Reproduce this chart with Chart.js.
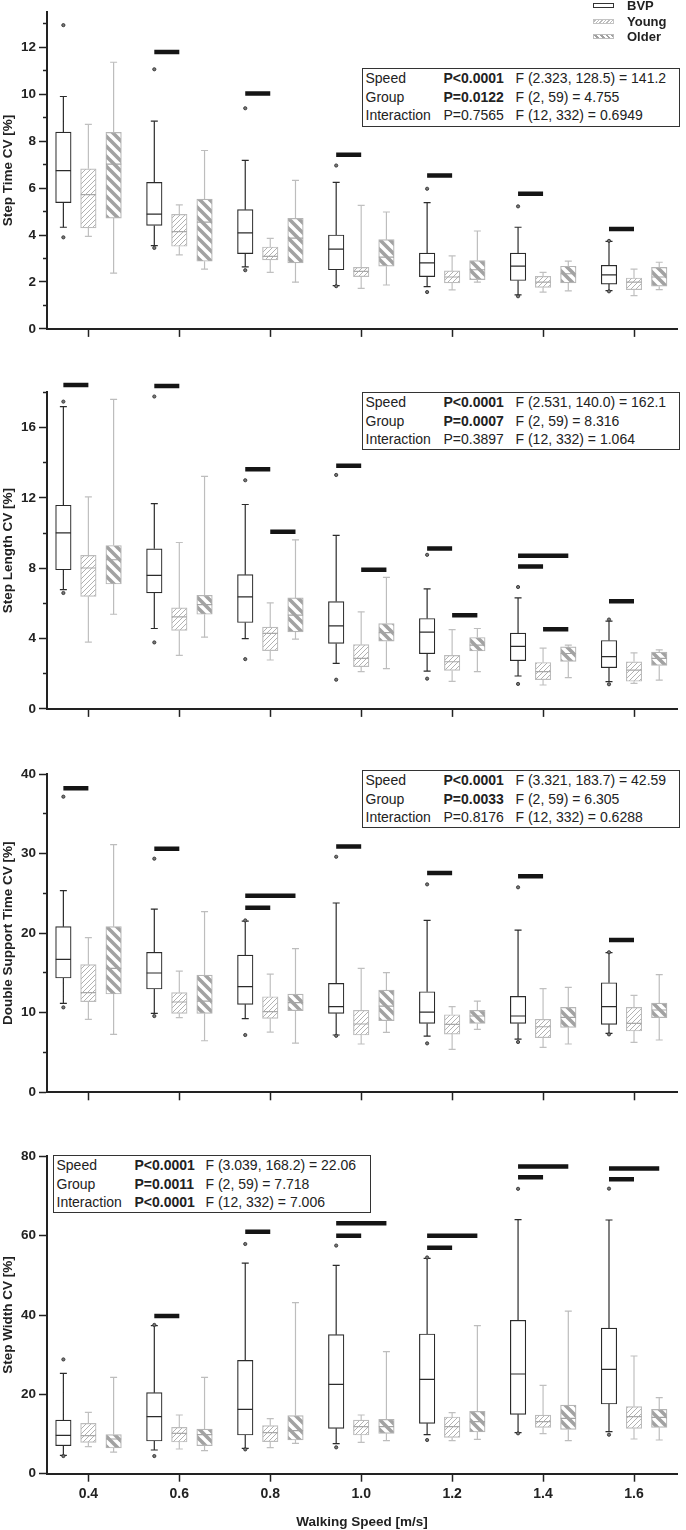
<!DOCTYPE html>
<html><head><meta charset="utf-8">
<script src="https://cdn.jsdelivr.net/npm/chart.js@4.4.1/dist/chart.umd.min.js"></script>
<style>
html,body{margin:0;padding:0;background:#fff;width:686px;height:1530px;overflow:hidden;font-family:"Liberation Sans",Arial,sans-serif;color:#222;}
canvas{position:absolute;left:0;}
.stats{position:absolute;border:1.5px solid #333;background:#fff;font-size:14px;line-height:18.5px;padding:0 0 0 2.5px;box-sizing:border-box;z-index:5;white-space:nowrap;}
.stats .r{display:grid;grid-template-columns:78px 72px auto;height:18.5px;}
.lg{position:absolute;left:593px;z-index:5;font-weight:bold;font-size:13px;line-height:15px;}
.lg .sw{position:absolute;left:0;width:21px;height:5px;box-sizing:border-box;}
.lg .tx{position:absolute;left:34px;white-space:nowrap;}
</style>
</head><body>
<canvas id="c1" width="686" height="340" style="top:0"></canvas>
<canvas id="c2" width="686" height="380" style="top:340px"></canvas>
<canvas id="c3" width="686" height="390" style="top:720px"></canvas>
<canvas id="c4" width="686" height="420" style="top:1110px"></canvas>

<div class="lg" style="top:0">
  <div class="sw" style="top:3px;border:1.3px solid #333;background:#fff"></div><div class="tx" style="top:-2px">BVP</div>
  <div class="sw" style="top:19px;border:1px solid #c4c4c4;background:repeating-linear-gradient(-45deg,#fff 0 1.5px,#bbb 1.5px 2.5px)"></div><div class="tx" style="top:14px">Young</div>
  <div class="sw" style="top:34px;border:1px solid #bdbdbd;background:repeating-linear-gradient(45deg,#fff 0 2px,#a0a0a0 2px 4px)"></div><div class="tx" style="top:29px">Older</div>
</div>

<div class="stats" style="left:362px;top:68px;width:318px;height:59px">
  <div class="r"><span>Speed</span><span><b>P&lt;0.0001</b></span><span>F (2.323, 128.5) = 141.2</span></div>
  <div class="r"><span>Group</span><span><b>P=0.0122</b></span><span>F (2, 59) = 4.755</span></div>
  <div class="r"><span>Interaction</span><span>P=0.7565</span><span>F (12, 332) = 0.6949</span></div>
</div>
<div class="stats" style="left:362px;top:392px;width:318px;height:58px">
  <div class="r"><span>Speed</span><span><b>P&lt;0.0001</b></span><span>F (2.531, 140.0) = 162.1</span></div>
  <div class="r"><span>Group</span><span><b>P=0.0007</b></span><span>F (2, 59) = 8.316</span></div>
  <div class="r"><span>Interaction</span><span>P=0.3897</span><span>F (12, 332) = 1.064</span></div>
</div>
<div class="stats" style="left:362px;top:770px;width:318px;height:58px">
  <div class="r"><span>Speed</span><span><b>P&lt;0.0001</b></span><span>F (3.321, 183.7) = 42.59</span></div>
  <div class="r"><span>Group</span><span><b>P=0.0033</b></span><span>F (2, 59) = 6.305</span></div>
  <div class="r"><span>Interaction</span><span>P=0.8176</span><span>F (12, 332) = 0.6288</span></div>
</div>
<div class="stats" style="left:53px;top:1155px;width:318px;height:58px">
  <div class="r" style="grid-template-columns:78px 71px auto"><span>Speed</span><span><b>P&lt;0.0001</b></span><span>F (3.039, 168.2) = 22.06</span></div>
  <div class="r" style="grid-template-columns:78px 71px auto"><span>Group</span><span><b>P=0.0011</b></span><span>F (2, 59) = 7.718</span></div>
  <div class="r" style="grid-template-columns:78px 71px auto"><span>Interaction</span><span><b>P&lt;0.0001</b></span><span>F (12, 332) = 7.006</span></div>
</div>

<script>
// ---------- DATA ----------
const speeds = [0.4, 0.6, 0.8, 1.0, 1.2, 1.4, 1.6];
const groupNames = ['BVP', 'Young', 'Older'];
// each row: [lower whisker, Q1, median, Q3, upper whisker] per speed

const stepTimeBVP = [[4.33,5.38,6.74,8.38,9.90],[3.55,4.41,4.89,6.24,8.85],[2.64,3.21,4.09,5.08,7.18],[1.84,2.52,3.40,4.00,6.24],[1.80,2.23,2.81,3.23,5.38],[1.45,2.06,2.67,3.23,4.33],[1.63,1.91,2.30,2.71,3.73]];
const stepTimeYoung = [[3.94,4.30,5.72,6.82,8.71],[3.15,3.52,4.14,4.88,5.28],[2.41,2.94,3.09,3.49,3.86],[1.73,2.23,2.45,2.62,5.26],[1.66,1.96,2.21,2.47,3.11],[1.57,1.77,1.99,2.24,2.41],[1.42,1.67,1.99,2.17,2.55]];
const stepTimeOlder = [[2.38,4.72,7.02,8.37,11.36],[2.55,2.88,4.55,5.53,7.60],[1.99,2.81,3.87,4.71,6.33],[1.87,2.67,3.06,3.80,4.98],[1.99,2.10,2.52,2.91,4.17],[1.62,1.96,2.35,2.67,2.89],[1.67,1.82,2.21,2.62,2.84]];
const stepTimeOutliers = [[0.4,12.94],[0.4,3.9],[0.6,11.06],[0.6,3.45],[0.8,9.40],[0.8,2.5],[1.0,6.96],[1.0,1.82],[1.2,5.97],[1.2,1.57],[1.4,5.22],[1.4,1.39],[1.6,3.75],[1.6,1.6]];
// [speed, fromGroup, toGroup, value]
const stepTimeSig = [[0.6,0,1,11.8],[0.8,0,1,10.03],[1.0,0,1,7.42],[1.2,0,1,6.53],[1.4,0,1,5.76],[1.6,0,1,4.26]];

const stepLengthBVP = [[6.78,7.91,10.01,11.58,17.19],[4.57,6.59,7.59,9.10,11.67],[3.99,4.91,6.37,7.63,11.62],[2.59,3.72,4.72,6.10,9.86],[2.15,3.14,4.36,5.14,6.82],[1.87,2.74,3.55,4.31,6.31],[1.55,2.34,2.97,3.89,4.99]];
const stepLengthYoung = [[3.80,6.40,8.01,8.73,12.05],[3.04,4.46,5.23,5.74,9.46],[2.78,3.31,4.29,4.65,6.03],[2.12,2.40,2.87,3.65,5.52],[1.57,2.19,2.68,3.04,4.51],[1.36,1.66,2.12,2.64,3.46],[1.45,1.57,2.21,2.68,3.19]];
const stepLengthOlder = [[5.38,7.10,8.48,9.29,17.60],[4.08,5.38,5.93,6.46,13.22],[3.97,4.38,5.33,6.31,9.61],[2.29,3.85,4.34,4.85,7.48],[2.12,3.29,3.63,4.06,4.57],[1.78,2.70,3.15,3.53,3.63],[1.64,2.47,2.87,3.23,3.36]];
const stepLengthOutliers = [[0.4,17.47],[0.4,6.59],[0.6,17.76],[0.6,3.78],[0.8,13.0],[0.8,2.83],[1.0,13.3],[1.0,1.66],[1.2,8.76],[1.2,1.72],[1.4,6.93],[1.4,1.42],[1.6,5.08],[1.6,1.40]];
const stepLengthSig = [[0.4,0,1,18.42],[0.6,0,1,18.36],[0.8,0,1,13.62],[0.8,1,2,10.07],[1.0,0,1,13.83],[1.0,1,2,7.91],[1.2,0,1,9.12],[1.2,1,2,5.33],[1.4,0,2,8.71],[1.4,0,1,8.10],[1.4,1,2,4.53],[1.6,0,1,6.12]];

const dsTimeBVP = [[11.18,14.36,16.71,20.81,25.34],[9.92,12.98,14.99,17.59,23.03],[9.25,11.05,13.27,17.25,21.52],[7.20,9.92,10.76,13.69,23.79],[7.07,8.66,10.08,12.64,21.61],[6.69,8.66,9.59,12.05,20.39],[7.41,8.54,10.76,13.77,17.55]];
const dsTimeYoung = [[9.16,11.39,12.52,16.04,19.43],[9.38,9.92,11.35,12.52,15.24],[7.57,9.29,10.13,12.01,14.86],[6.07,7.20,8.58,10.30,15.58],[5.39,7.32,8.54,9.75,10.76],[5.65,6.86,8.24,9.17,13.02],[6.28,7.70,8.66,10.67,12.18]];
const dsTimeOlder = [[7.28,12.35,15.58,20.81,31.12],[6.48,9.92,11.47,14.74,22.70],[6.19,10.25,11.26,12.35,18.05],[7.53,9.00,10.84,12.85,15.03],[7.91,8.66,9.59,10.30,11.47],[6.07,8.16,9.42,10.67,13.19],[6.57,9.38,10.34,11.22,14.78]];
const dsTimeOutliers = [[0.4,37.15],[0.4,10.67],[0.6,29.36],[0.6,9.58],[0.8,21.6],[0.8,7.20],[1.0,29.6],[1.0,7.1],[1.2,26.13],[1.2,6.15],[1.4,25.76],[1.4,6.32],[1.6,17.6],[1.6,7.28]];
const dsTimeSig = [[0.4,0,1,38.2],[0.6,0,1,30.62],[0.8,0,2,24.71],[0.8,0,1,23.2],[1.0,0,1,30.9],[1.2,0,1,27.56],[1.4,0,1,27.14],[1.6,0,1,19.14]];

const stepWidthBVP = [[4.62,7.06,9.66,13.5,25.3],[5.97,8.24,14.37,20.42,37.3],[6.39,9.75,16.22,28.57,53.1],[7.56,11.43,22.52,35.04,52.5],[9.83,12.69,23.78,35.21,54.29],[10.34,14.96,25.13,38.66,64.03],[10.59,17.56,26.30,36.72,63.95]];
const stepWidthYoung = [[6.81,7.90,9.58,12.69,15.46],[6.22,7.98,10.17,11.68,14.79],[6.55,8.07,10.34,12.10,13.87],[7.90,9.75,11.85,13.53,14.79],[8.32,9.16,11.85,14.29,15.38],[10.08,11.68,13.11,14.79,22.27],[8.74,11.43,14.37,16.89,29.66]];
const stepWidthOlder = [[5.46,6.47,8.74,9.83,24.29],[5.80,7.06,9.83,11.26,24.29],[7.65,8.49,10.84,14.62,43.1],[8.32,10.17,11.85,13.70,30.76],[8.66,10.50,13.11,15.71,37.31],[8.32,11.18,13.95,17.31,41.0],[8.49,11.68,14.20,16.22,19.16]];
const stepWidthOutliers = [[0.4,28.8],[0.4,4.45],[0.6,37.5],[0.6,4.45],[0.8,57.9],[0.8,6.13],[1.0,57.5],[1.0,6.64],[1.2,54.5],[1.2,8.49],[1.4,71.8],[1.4,10.17],[1.6,71.85],[1.6,9.83]];
const stepWidthSig = [[0.6,0,1,39.75],[0.8,0,1,61.0],[1.0,0,2,63.1],[1.0,0,1,60.0],[1.2,0,2,60.0],[1.2,0,1,56.97],[1.4,0,2,77.4],[1.4,0,1,74.7],[1.6,0,2,76.9],[1.6,0,1,74.2]];

// axis tick values
const stepTimeTicks = [0,2,4,6,8,10,12], stepTimeMinor = [1,3,5,7,9,11,13];
const stepLengthTicks = [0,4,8,12,16], stepLengthMinor = [2,6,10,14,18];
const dsTimeTicks = [0,10,20,30,40], dsTimeMinor = [5,15,25,35];
const stepWidthTicks = [0,20,40,60,80], stepWidthMinor = [];

// ---------- LAYOUT / STYLE ----------
const FONT = 'Liberation Sans';
Chart.defaults.font.family = FONT;
const groupOffsets = [-0.055, 0, 0.0555];

const panels = [
  {id:'c1', padTop:12, xH:10.7, yMax:13.5, major:stepTimeTicks, minor:stepTimeMinor, title:'Step Time CV [%]', data:[stepTimeBVP,stepTimeYoung,stepTimeOlder], out:stepTimeOutliers, sig:stepTimeSig, last:false},
  {id:'c2', padTop:52.3, xH:9.3, yMax:18, major:stepLengthTicks, minor:stepLengthMinor, title:'Step Length CV [%]', data:[stepLengthBVP,stepLengthYoung,stepLengthOlder], out:stepLengthOutliers, sig:stepLengthSig, last:false},
  {id:'c3', padTop:54, xH:17.7, yMax:40, major:dsTimeTicks, minor:dsTimeMinor, title:'Double Support Time CV [%]', data:[dsTimeBVP,dsTimeYoung,dsTimeOlder], out:dsTimeOutliers, sig:dsTimeSig, last:false},
  {id:'c4', padTop:46.3, xH:56.3, yMax:80, major:stepWidthTicks, minor:stepWidthMinor, title:'Step Width CV [%]', data:[stepWidthBVP,stepWidthYoung,stepWidthOlder], out:stepWidthOutliers, sig:stepWidthSig, last:true}
];

function makePatterns(ctx){
  const a = document.createElement('canvas'); a.width = a.height = 5;
  const g = a.getContext('2d'); g.fillStyle = '#fff'; g.fillRect(0,0,5,5);
  g.strokeStyle = '#b2b2b2'; g.lineWidth = 1; g.beginPath();
  for (let k=-1;k<=1;k++){ g.moveTo(k*5-1, 6); g.lineTo(k*5+6, -1); }
  g.stroke();
  const b = document.createElement('canvas'); b.width = b.height = 10;
  const h = b.getContext('2d'); h.fillStyle = '#fff'; h.fillRect(0,0,10,10);
  h.strokeStyle = '#a2a2a2'; h.lineWidth = 3.6; h.beginPath();
  for (let k=-1;k<=1;k++){ h.moveTo(-1, -1+10*k); h.lineTo(11, 11+10*k); }
  h.stroke();
  return [ctx.createPattern(a,'repeat'), ctx.createPattern(b,'repeat')];
}

function build(p){
  const cv = document.getElementById(p.id);
  const ctx = cv.getContext('2d');
  const [youngPat, olderPat] = makePatterns(ctx);
  const styles = [
    {border:'#2b2b2b', fill:'#ffffff', whisk:'#2b2b2b', med:'#2b2b2b'},
    {border:'#bcbcbc', fill:youngPat, whisk:'#c0c0c0', med:'#a9a9a9'},
    {border:'#b5b5b5', fill:olderPat, whisk:'#bdbdbd', med:'#a3a3a3'}
  ];
  const ds = [];
  p.data.forEach((arr, g) => {
    const st = styles[g], off = groupOffsets[g];
    ds.push({type:'bar', label:groupNames[g], data:arr.map((v,i)=>({x:speeds[i]+off, y:[v[1], v[3]]})),
      backgroundColor:st.fill, borderColor:st.border, borderWidth:1.2, borderSkipped:false,
      grouped:false, barThickness:15.5, order:5});
    const wl = [];
    arr.forEach((v,i)=>{ const x = speeds[i]+off; wl.push({x,y:v[0]},{x,y:v[1]},{x,y:null},{x,y:v[3]},{x,y:v[4]},{x,y:null}); });
    ds.push({type:'line', data:wl, borderColor:st.whisk, borderWidth:1.2, pointRadius:0, spanGaps:false, fill:false, order:2});
    ds.push({type:'scatter', data:arr.flatMap((v,i)=>[{x:speeds[i]+off,y:v[0]},{x:speeds[i]+off,y:v[4]}]),
      pointStyle:'line', pointRadius:3.5, pointBorderWidth:1.2, pointBorderColor:st.whisk, order:2});
    ds.push({type:'scatter', data:arr.map((v,i)=>({x:speeds[i]+off, y:v[2]})),
      pointStyle:'line', pointRadius:7.6, pointBorderWidth:1.2, pointBorderColor:st.med, order:1});
  });
  ds.push({type:'scatter', data:p.out.map(o=>({x:o[0]+groupOffsets[0], y:o[1]})),
    pointStyle:'circle', pointRadius:1.6, pointBackgroundColor:'#777', pointBorderColor:'#333', pointBorderWidth:0.9, order:0, clip:false});
  const sl = [];
  p.sig.forEach(s => { sl.push({x:s[0]+groupOffsets[s[1]], y:s[3]}, {x:s[0]+groupOffsets[s[2]], y:s[3]}, {x:s[0], y:null}); });
  ds.push({type:'line', data:sl, borderColor:'#151515', borderWidth:4.5, borderCapStyle:'butt', pointRadius:0, spanGaps:false, fill:false, clip:false, order:0});

  const tickFont = {family:FONT, size:13.5, weight:'bold'};
  new Chart(ctx, {
    type:'scatter',
    data:{datasets:ds},
    options:{
      responsive:false, animation:false, events:[],
      layout:{padding:{top:p.padTop, left:0, right:0, bottom:0}},
      plugins:{legend:{display:false}, tooltip:{enabled:false}},
      scales:{
        x:{type:'linear', position:'bottom', min:0.309, max:1.695, offset:false,
          afterBuildTicks:s=>{ s.ticks = speeds.map(v=>({value:v})); },
          afterFit:s=>{ s.height = p.xH; },
          grid:{drawOnChartArea:false, offset:false, tickLength:8, tickWidth:1.5, tickColor:'#222'},
          border:{color:'#222', width:2},
          ticks:{display:p.last, padding:4, autoSkip:false, maxRotation:0, color:'#222',
            font:{family:FONT, size:14, weight:'bold'}, callback:v=>Number(v).toFixed(1)},
          title:{display:p.last, text:'Walking Speed [m/s]', color:'#222', font:{family:FONT, size:13.5, weight:'bold'}, padding:{top:0,bottom:0}}
        },
        y:{type:'linear', position:'left', weight:1, min:0, max:p.yMax,
          afterBuildTicks:s=>{ s.ticks = p.major.map(v=>({value:v})); },
          afterFit:s=>{ s.width = 47; },
          grid:{drawOnChartArea:false, tickLength:8, tickWidth:1.5, tickColor:'#222'},
          border:{color:'#222', width:2},
          ticks:{padding:3, color:'#222', font:tickFont},
          title:{display:true, text:p.title, color:'#222', font:{family:FONT, size:13.5, weight:'bold'}, padding:{top:0,bottom:0}}
        },
        yMinor:{type:'linear', position:'left', weight:0, min:0, max:p.yMax,
          afterBuildTicks:s=>{ s.ticks = p.minor.map(v=>({value:v})); },
          afterFit:s=>{ s.width = 0; },
          grid:{drawOnChartArea:false, tickLength:4, tickWidth:1.5, tickColor:'#222'},
          border:{display:false},
          ticks:{display:false}
        }
      }
    }
  });
}
panels.forEach(build);
</script>
</body></html>
